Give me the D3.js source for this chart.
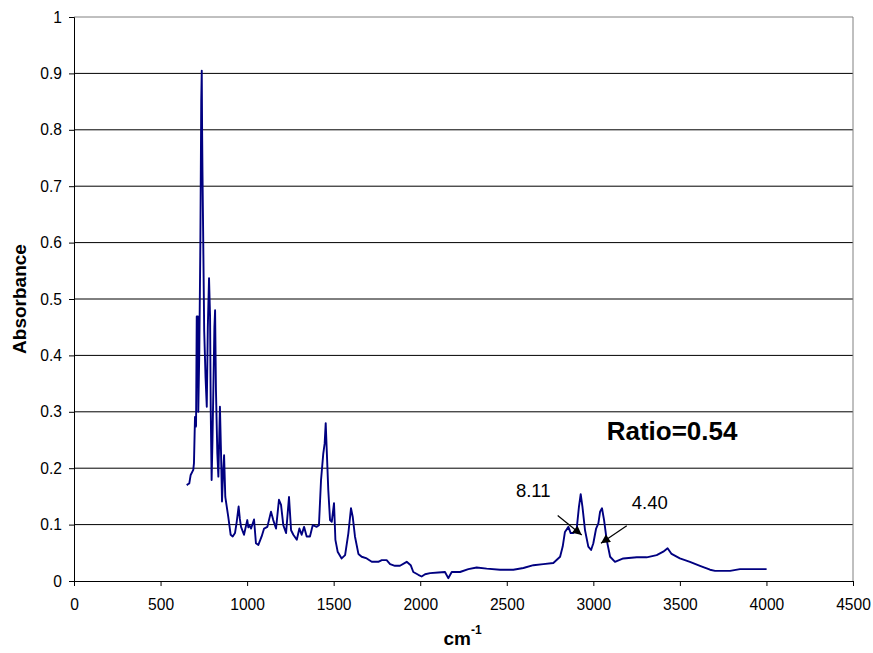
<!DOCTYPE html>
<html>
<head>
<meta charset="utf-8">
<script src="https://cdn.jsdelivr.net/npm/d3@7"></script>
<style>
  html, body { margin: 0; padding: 0; background: #fff; }
  svg { display: block; font-family: "Liberation Sans", Arial, sans-serif; }
</style>
</head>
<body>
<svg id="chart" width="873" height="653"></svg>
<script>
// Wavenumber (cm-1) and absorbance readings
const wavenumbers = [651,660,666,674,689,693,699,705,709,716,718,724,730,735,738,740,742,746,752,760,767,773,780,786,790,795,800,805,811,815,820,828,834,843,849,855,861,867,874,891,905,917,930,940,951,958,965,982,1001,1007,1013,1023,1040,1051,1065,1084,1098,1117,1138,1151,1167,1184,1196,1209,1225,1242,1254,1267,1287,1302,1315,1329,1344,1363,1379,1402,1415,1427,1440,1448,1454,1460,1469,1479,1489,1502,1510,1523,1546,1566,1585,1600,1610,1623,1643,1662,1691,1720,1758,1778,1806,1826,1854,1883,1922,1945,1960,1989,2008,2028,2057,2105,2143,2162,2182,2230,2278,2326,2384,2461,2538,2596,2654,2711,2769,2808,2823,2836,2856,2869,2885,2904,2917,2927,2937,2952,2971,2987,3000,3016,3029,3039,3050,3062,3077,3097,3125,3173,3251,3308,3366,3404,3429,3452,3500,3558,3616,3674,3703,3790,3847,4001];
const absorbance = [0.170,0.172,0.173,0.188,0.197,0.209,0.291,0.274,0.469,0.469,0.300,0.41,0.60,0.85,0.905,0.80,0.73,0.62,0.445,0.36,0.309,0.45,0.537,0.469,0.30,0.179,0.25,0.339,0.45,0.480,0.339,0.226,0.185,0.309,0.232,0.141,0.19,0.223,0.149,0.114,0.082,0.079,0.085,0.105,0.132,0.110,0.096,0.082,0.108,0.095,0.099,0.093,0.109,0.067,0.064,0.079,0.093,0.096,0.123,0.108,0.093,0.144,0.135,0.099,0.085,0.149,0.090,0.082,0.073,0.093,0.082,0.096,0.079,0.079,0.099,0.096,0.099,0.179,0.226,0.244,0.280,0.232,0.161,0.108,0.105,0.138,0.073,0.052,0.040,0.046,0.085,0.129,0.114,0.079,0.048,0.043,0.040,0.034,0.034,0.037,0.037,0.030,0.027,0.027,0.034,0.028,0.016,0.011,0.008,0.012,0.014,0.015,0.016,0.005,0.016,0.016,0.021,0.024,0.022,0.020,0.020,0.023,0.028,0.030,0.032,0.043,0.061,0.087,0.096,0.085,0.085,0.093,0.132,0.154,0.132,0.090,0.061,0.055,0.067,0.093,0.102,0.123,0.129,0.108,0.073,0.043,0.034,0.040,0.042,0.042,0.046,0.052,0.058,0.048,0.040,0.034,0.027,0.020,0.018,0.018,0.021,0.021];

const xTicks = [0,500,1000,1500,2000,2500,3000,3500,4000,4500];
const yTicks = [0,0.1,0.2,0.3,0.4,0.5,0.6,0.7,0.8,0.9,1];
const yTickLabels = ["0","0.1","0.2","0.3","0.4","0.5","0.6","0.7","0.8","0.9","1"];

// Annotation labels (data coordinates)
const labelTexts = ["8.11", "4.40", "Ratio=0.54"];
const labelX = [2553, 3222, 3077];
const labelY = [0.149, 0.128, 0.250];
// Arrows: from (x1,y1) to (x2,y2) in data units
const arrowX1 = [2794, 3193];
const arrowY1 = [0.116, 0.098];
const arrowX2 = [2933, 3044];
const arrowY2 = [0.0816, 0.0668];

const svg = d3.select("#chart");
const pLeft = 74, pRight = 853, pTop = 17, pBottom = 581;

const x = d3.scaleLinear().domain([0, 4500]).range([pLeft, pRight]);
const y = d3.scaleLinear().domain([0, 1]).range([pBottom, pTop]);

// Gridlines
svg.append("g").selectAll("line").data(yTicks.slice(1, -1)).join("line")
  .attr("x1", pLeft).attr("x2", pRight)
  .attr("y1", d => y(d)).attr("y2", d => y(d))
  .attr("stroke", "#000").attr("stroke-width", 1);

// Plot border (top & right) gray
svg.append("line").attr("x1", pLeft).attr("x2", pRight).attr("y1", y(1)).attr("y2", y(1))
  .attr("stroke", "#808080").attr("stroke-width", 1);
svg.append("line").attr("x1", pRight).attr("x2", pRight).attr("y1", pTop).attr("y2", pBottom)
  .attr("stroke", "#808080").attr("stroke-width", 1);

// Axes
const yAxis = d3.axisLeft(y).tickValues(yTicks)
  .tickFormat((d, i) => yTickLabels[i]).tickSize(5).tickPadding(7);
const gy = svg.append("g").attr("transform", `translate(${pLeft},0)`).call(yAxis);
gy.selectAll("text").attr("font-size", 15.6).attr("fill", "#000")
  .attr("font-family", '"Liberation Sans", Arial, sans-serif');
gy.select(".domain").attr("stroke", "#000");

const xAxis = d3.axisBottom(x).tickValues(xTicks).tickFormat(d3.format("d"))
  .tickSize(5).tickPadding(13);
const gx = svg.append("g").attr("transform", `translate(0,${pBottom})`).call(xAxis);
gx.selectAll("text").attr("font-size", 15.6).attr("fill", "#000")
  .attr("font-family", '"Liberation Sans", Arial, sans-serif');
gx.select(".domain").attr("stroke", "#000");

// Spectrum line
const pts = wavenumbers.map((w, i) => [w, absorbance[i]]);
const line = d3.line().x(d => x(d[0])).y(d => y(d[1]));
svg.append("path").datum(pts).attr("d", line)
  .attr("fill", "none").attr("stroke", "#000080").attr("stroke-width", 1.9)
  .attr("stroke-linejoin", "round");

// Axis titles
svg.append("text").attr("transform", `translate(26,${(pTop + pBottom) / 2}) rotate(-90)`)
  .attr("text-anchor", "middle").attr("font-size", 19).attr("font-weight", "bold")
  .text("Absorbance");
const xt = svg.append("text").attr("x", (pLeft + pRight) / 2 - 20).attr("y", 645)
  .attr("font-size", 19).attr("font-weight", "bold");
xt.append("tspan").text("cm");
xt.append("tspan").attr("dy", -11).attr("font-size", 12).text("-1");

// Arrow marker
svg.append("defs").append("marker").attr("id", "ah")
  .attr("viewBox", "0 0 10 10").attr("refX", 10).attr("refY", 5)
  .attr("markerWidth", 11).attr("markerHeight", 9).attr("markerUnits", "userSpaceOnUse")
  .attr("orient", "auto")
  .append("path").attr("d", "M0,0 L10,5 L0,10 Z").attr("fill", "#000");

svg.append("g").selectAll("line").data(arrowX1).join("line")
  .attr("x1", (d, i) => x(arrowX1[i])).attr("y1", (d, i) => y(arrowY1[i]))
  .attr("x2", (d, i) => x(arrowX2[i])).attr("y2", (d, i) => y(arrowY2[i]))
  .attr("stroke", "#000").attr("stroke-width", 1.2).attr("marker-end", "url(#ah)");

// Labels
svg.append("g").selectAll("text").data(labelTexts).join("text")
  .attr("x", (d, i) => x(labelX[i])).attr("y", (d, i) => y(labelY[i]))
  .attr("font-size", (d, i) => i === 2 ? 26 : 18.5)
  .attr("font-weight", (d, i) => i === 2 ? "bold" : "normal")
  .attr("fill", "#000")
  .text(d => d);
</script>
</body>
</html>
